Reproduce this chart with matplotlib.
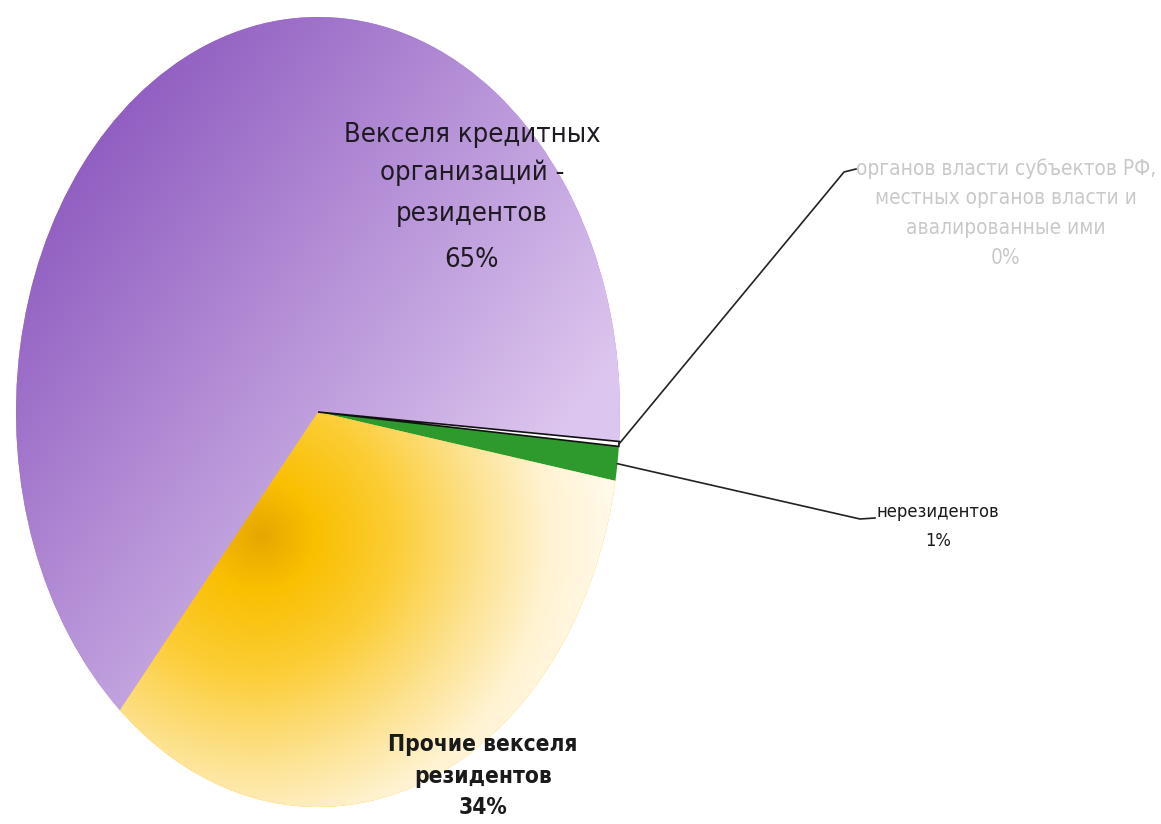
import numpy as np
import matplotlib
matplotlib.use('agg')
import matplotlib.pyplot as plt
from matplotlib.colors import to_rgb
from matplotlib import font_manager as fm

# slice data (counterclockwise from the lower-left boundary)
labels = ['Прочие векселя\nрезидентов', 'нерезидентов',
          'органов власти субъектов РФ,\nместных органов власти и\nавалированные ими',
          'Векселя кредитных\nорганизаций -\nрезидентов']
values = [33.6, 1.4, 0.2, 64.8]
colors = ['#f9c000', '#2e9a2e', '#ffffff', '#b088d8']


# look for a narrow font, otherwise fall back to Liberation Sans
def pick_font(bold=False):
    found = []
    for f in fm.fontManager.ttflist:
        name = (f.fname + ' ' + f.name).lower()
        if ('narrow' in name or 'condensed' in name) and 'oblique' not in name and 'italic' not in name:
            if ('bold' in name) == bold:
                found.append(f)
    found.sort(key=lambda f: (0 if 'liberation' in f.fname.lower() else 1, f.fname))
    if found:
        return fm.FontProperties(fname=found[0].fname)
    return fm.FontProperties(family='Liberation Sans', weight='bold' if bold else 'normal')


font_reg = pick_font(False)
font_bold = pick_font(True)

W, H = 1161, 824
fig = plt.figure(figsize=(W / 100, H / 100), dpi=100)
ax = fig.add_axes([0, 0, 1, 1])

# ellipse: centre at pixel (318, 412), radii 302 x 395 px
cx, cy, rx, ry = 318, 412, 302, 395
x0, x1 = -cx / rx, (W - cx) / rx
y0, y1 = -(H - cy) / ry, cy / ry


def px(x, y):
    return (x - cx) / rx, (cy - y) / ry


wedges, _ = ax.pie(values, colors=colors, startangle=229, counterclock=True,
                   radius=1, center=(0, 0), frame=True)
ax.set_aspect('auto')
ax.set_xlim(x0, x1)
ax.set_ylim(y0, y1)
ax.axis('off')

# gradient fills clipped to wedges
gx, gy = np.meshgrid(np.arange(W), np.arange(H))

# purple: linear gradient top-left -> lower-right
t = np.clip(((gx - 60) * 0.8 + (gy - 60) * 0.6) / 620, 0, 1)
c0, c1 = np.array(to_rgb('#8650bb')), np.array(to_rgb('#dcc5ee'))
purple = c0 + t[..., None] * (c1 - c0)

# yellow: radial gradient from a warm spot near the centre
r = np.hypot(gx - 262, (gy - 535) * 1.1) + np.clip(gx - 262, 0, None) * 0.15
stops_r = [0, 60, 150, 250, 330, 440]
stops_c = [to_rgb(c) for c in ['#e6a700', '#f9bf00', '#fccd35', '#fde290', '#fff3d2', '#fffdf6']]
yellow = np.stack([np.interp(r, stops_r, [c[i] for c in stops_c]) for i in range(3)], axis=-1)

for img, w in [(purple, wedges[3]), (yellow, wedges[0])]:
    im = ax.imshow(img, extent=(x0, x1, y0, y1), origin='upper', aspect='auto',
                   interpolation='bilinear', zorder=w.get_zorder() + 0.1)
    im.set_clip_path(w)
    w.set_edgecolor('none')

wedges[1].set_edgecolor('none')
wedges[2].set_edgecolor('#111111')
wedges[2].set_linewidth(1.2)
wedges[2].set_zorder(5)


def edge_point(w):
    ang = np.deg2rad((w.theta1 + w.theta2) / 2)
    return np.cos(ang), np.sin(ang)


# leader lines
ex, ey = edge_point(wedges[2])
kx, ky = px(844, 172)
hx, hy = px(856, 169)
ax.plot([ex, kx, hx], [ey, ky, hy], color='#222222', lw=1.2, zorder=6)

ex, ey = edge_point(wedges[1])
kx, ky = px(860, 519)
hx, hy = px(875, 518)
ax.plot([ex, kx, hx], [ey, ky, hy], color='#222222', lw=1.2, zorder=6)

pcts = ['%.0f%%' % v for v in values]
renderer = fig.canvas.get_renderer()


def label_block(text, xc, ys, width, fp, color):
    lines = text.split('\n')
    objs = [ax.text(*px(xc, y), ln, ha='center', va='center', color=color,
                    fontproperties=fp.copy(), zorder=7) for ln, y in zip(lines, ys)]
    # scale the font so that the first line has the reference width
    size = 20.0
    for _ in range(4):
        for o in objs:
            o.set_fontsize(size)
        wpx = objs[0].get_window_extent(renderer).width
        size *= width / wpx
    for o in objs:
        o.set_fontsize(size)


label_block(labels[3] + '\n' + pcts[3], 472, [135, 173, 214, 260], 256, font_reg, '#1e1a22')
label_block(labels[2] + '\n' + pcts[2], 1006, [169, 198, 228, 258], 300, font_reg, '#c9c9c9')
label_block(labels[1] + '\n' + pcts[1], 938, [512, 541], 123, font_reg, '#1a1a1a')
label_block(labels[0] + '\n' + pcts[0], 483, [744, 777, 807], 190, font_bold, '#1a1a1a')

fig.savefig('out.png', dpi=100, facecolor='white')
